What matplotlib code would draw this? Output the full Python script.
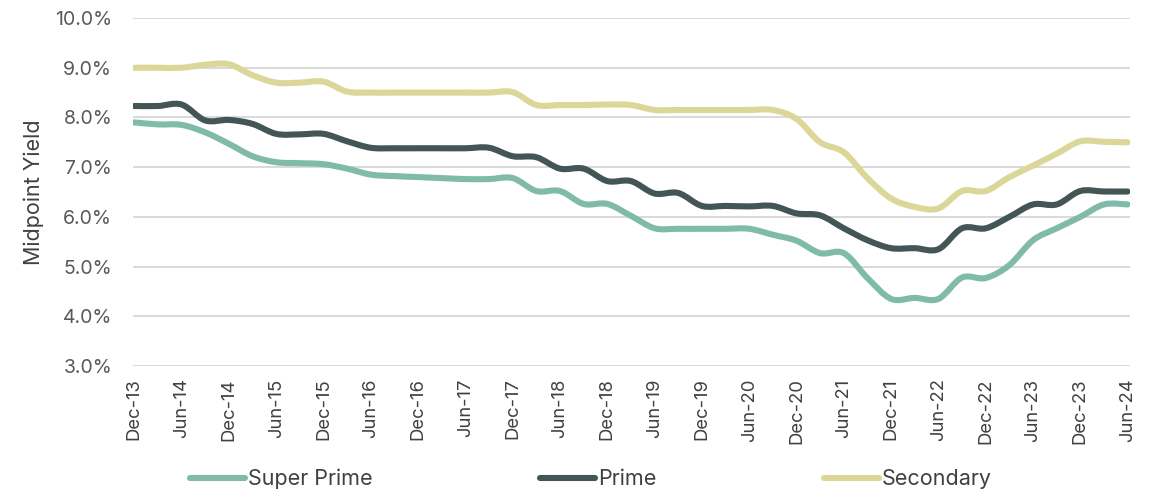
import numpy as np
import matplotlib
matplotlib.use("Agg")
import matplotlib.pyplot as plt
from matplotlib.path import Path
from matplotlib.patches import PathPatch
from matplotlib.lines import Line2D
from matplotlib.ticker import FuncFormatter

plt.rcParams['font.family'] = ['Inter', 'DejaVu Sans']

# quarterly yields, Dec-13 .. Jun-24
super_prime = [7.90, 7.86, 7.85, 7.70, 7.47, 7.22, 7.10, 7.08, 7.06, 6.97,
               6.85, 6.82, 6.80, 6.78, 6.76, 6.76, 6.78, 6.52, 6.52, 6.26,
               6.26, 6.02, 5.77, 5.76, 5.76, 5.76, 5.76, 5.64, 5.52, 5.27,
               5.27, 4.77, 4.35, 4.37, 4.35, 4.78, 4.77, 5.03, 5.53, 5.77,
               6.00, 6.25, 6.25]
prime = [8.23, 8.23, 8.26, 7.94, 7.95, 7.87, 7.67, 7.66, 7.67, 7.52,
         7.39, 7.38, 7.38, 7.38, 7.38, 7.39, 7.22, 7.20, 6.97, 6.97,
         6.72, 6.72, 6.47, 6.48, 6.22, 6.22, 6.21, 6.22, 6.07, 6.03,
         5.77, 5.53, 5.37, 5.37, 5.35, 5.77, 5.77, 6.00, 6.25, 6.25,
         6.52, 6.51, 6.51]
secondary = [9.00, 9.00, 9.00, 9.06, 9.07, 8.85, 8.70, 8.70, 8.72, 8.52,
             8.50, 8.50, 8.50, 8.50, 8.50, 8.50, 8.51, 8.25, 8.25, 8.25,
             8.26, 8.25, 8.15, 8.15, 8.15, 8.15, 8.15, 8.15, 7.97, 7.50,
             7.30, 6.78, 6.37, 6.20, 6.17, 6.52, 6.52, 6.80, 7.03, 7.27,
             7.52, 7.51, 7.50]

tick_labels = ['Dec-13', 'Jun-14', 'Dec-14', 'Jun-15', 'Dec-15', 'Jun-16',
               'Dec-16', 'Jun-17', 'Dec-17', 'Jun-18', 'Dec-18', 'Jun-19',
               'Dec-19', 'Jun-20', 'Dec-20', 'Jun-21', 'Dec-21', 'Jun-22',
               'Dec-22', 'Jun-23', 'Dec-23', 'Jun-24']

series = [('Super Prime', super_prime, '#80bbaa'),
          ('Prime', prime, '#435555'),
          ('Secondary', secondary, '#dbd799')]


def smooth_path(x, y):
    """Catmull-Rom style cubic Bezier through every point."""
    pts = np.column_stack([x, y]).astype(float)
    padded = np.vstack([pts[0], pts, pts[-1]])
    verts = [pts[0]]
    codes = [Path.MOVETO]
    for i in range(len(pts) - 1):
        p0, p1, p2, p3 = padded[i], padded[i + 1], padded[i + 2], padded[i + 3]
        c1 = p1 + (p2 - p0) / 6.0
        c2 = p2 - (p3 - p1) / 6.0
        verts += [c1, c2, p2]
        codes += [Path.CURVE4] * 3
    return Path(verts, codes)


fig = plt.figure(figsize=(11.61, 4.91), dpi=100)
ax = fig.add_axes([0.1146, 0.2546, 0.8587, 0.7087])

x = np.arange(len(prime))
handles = []
for name, vals, color in series:
    patch = PathPatch(smooth_path(x, vals), facecolor='none', edgecolor=color,
                      lw=4.4, capstyle='round', joinstyle='round', zorder=3)
    ax.add_patch(patch)
    handles.append(Line2D([], [], color=color, lw=4.4,
                          solid_capstyle='round', label=name))

ax.set_xlim(-0.05, 42.1)
ax.set_ylim(3, 10)
ax.set_yticks(np.arange(3, 10.01, 1))
ax.yaxis.set_major_formatter(FuncFormatter(lambda v, _: f'{v:.1f}%'))
ax.set_xticks(np.arange(0, 43, 2))
ax.set_xticklabels(tick_labels, rotation=90)

ax.grid(axis='y', color='#d9d9d9', lw=1.4)
ax.set_axisbelow(True)
for s in ax.spines.values():
    s.set_visible(False)
ax.tick_params(axis='both', length=0)
ax.tick_params(axis='y', pad=15, labelsize=14, labelcolor='#595959')
ax.tick_params(axis='x', pad=9, labelsize=13.3, labelcolor='#404040')
ax.set_ylabel('Midpoint Yield', fontsize=15.5, color='#404040', labelpad=8)

fig.legend(handles=handles, loc='lower center', ncol=3, frameon=False,
           bbox_to_anchor=(0.509, -0.036), fontsize=15.5, labelcolor='#404040',
           handlelength=2.55, handletextpad=0.14, columnspacing=7.8)

fig.savefig('out.png', dpi=100)
